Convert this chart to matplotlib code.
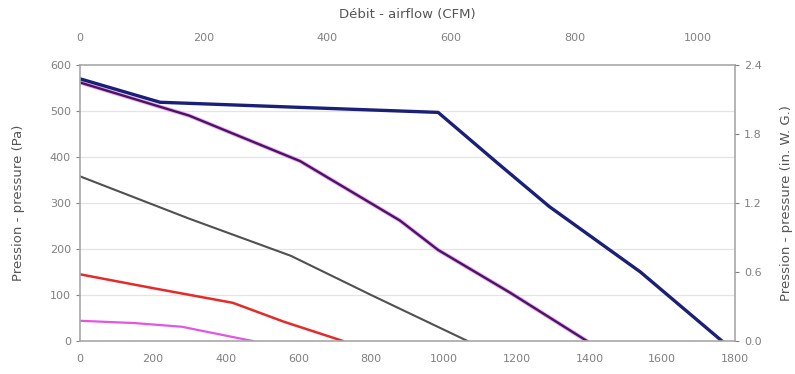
import matplotlib.pyplot as plt

# debit en m3/h, pression en Pa
blue_x = [0, 220, 600, 984, 1150, 1290, 1540, 1764]
blue_y = [570, 519, 508, 497, 385, 292, 150, 0]

purple_x = [0, 300, 605, 879, 984, 1182, 1393]
purple_y = [562, 490, 391, 262, 198, 105, 0]

gray_x = [0, 300, 580, 800, 1065]
gray_y = [358, 266, 185, 100, 0]

red_x = [0, 200, 420, 560, 723]
red_y = [145, 115, 83, 42, 0]

pink_x = [0, 150, 280, 380, 475]
pink_y = [44, 39, 31, 15, 0]

bottom_ticks = [0, 200, 400, 600, 800, 1000, 1200, 1400, 1600, 1800]
top_ticks = [0, 200, 400, 600, 800, 1000]
left_ticks = [0, 100, 200, 300, 400, 500, 600]
right_ticks = [0.0, 0.6, 1.2, 1.8, 2.4]

cfm = 1.699  # m3/h par CFM
tick_col = '#808080'
spine_col = '#a8a8a8'

fig = plt.figure(figsize=(7.95, 3.74), dpi=100)
ax = fig.add_axes([0.1006, 0.0882, 0.824, 0.738])

for y in left_ticks[1:-1]:
    ax.axhline(y, color='#e4e4e4', lw=0.9, zorder=0)

ax.plot(pink_x, pink_y, color='#e455e4', lw=1.6)
ax.plot(red_x, red_y, color='#e62a2a', lw=1.8)
ax.plot(gray_x, gray_y, color='#505050', lw=1.5)
ax.plot(purple_x, purple_y, color='#e070e0', lw=3.0, alpha=0.6)
ax.plot(purple_x, purple_y, color='#4a1466', lw=1.7)
ax.plot(blue_x, blue_y, color='#1a1f78', lw=2.4)

ax.set_xlim(0, 1800)
ax.set_ylim(0, 600)
ax.set_xticks(bottom_ticks)
ax.set_yticks(left_ticks)
ax.tick_params(colors=tick_col, labelsize=8, length=3, width=0.8)
ax.tick_params(axis='x', length=0, pad=9)
for s in ax.spines.values():
    s.set_color(spine_col)
    s.set_linewidth(1.2)
ax.set_ylabel('Pression - pressure (Pa)', color='#555555', fontsize=9.5, labelpad=18)

top = ax.twiny()
top.set_xlim(0, 1800 / cfm)
top.set_xticks(top_ticks)
top.tick_params(colors=tick_col, labelsize=8, length=0, pad=16)
for s in top.spines.values():
    s.set_visible(False)
top.set_xlabel('Débit - airflow (CFM)', color='#555555', fontsize=9.5, labelpad=11)

right = ax.twinx()
right.set_ylim(0, 2.4)
right.set_yticks(right_ticks)
right.set_yticklabels(['%.1f' % t for t in right_ticks])
right.tick_params(colors=tick_col, labelsize=8, length=3, width=0.8)
for s in right.spines.values():
    s.set_visible(False)
right.set_ylabel('Pression - pressure (in. W. G.)', color='#555555', fontsize=9.5, labelpad=13)

fig.savefig('out.png', dpi=100)
